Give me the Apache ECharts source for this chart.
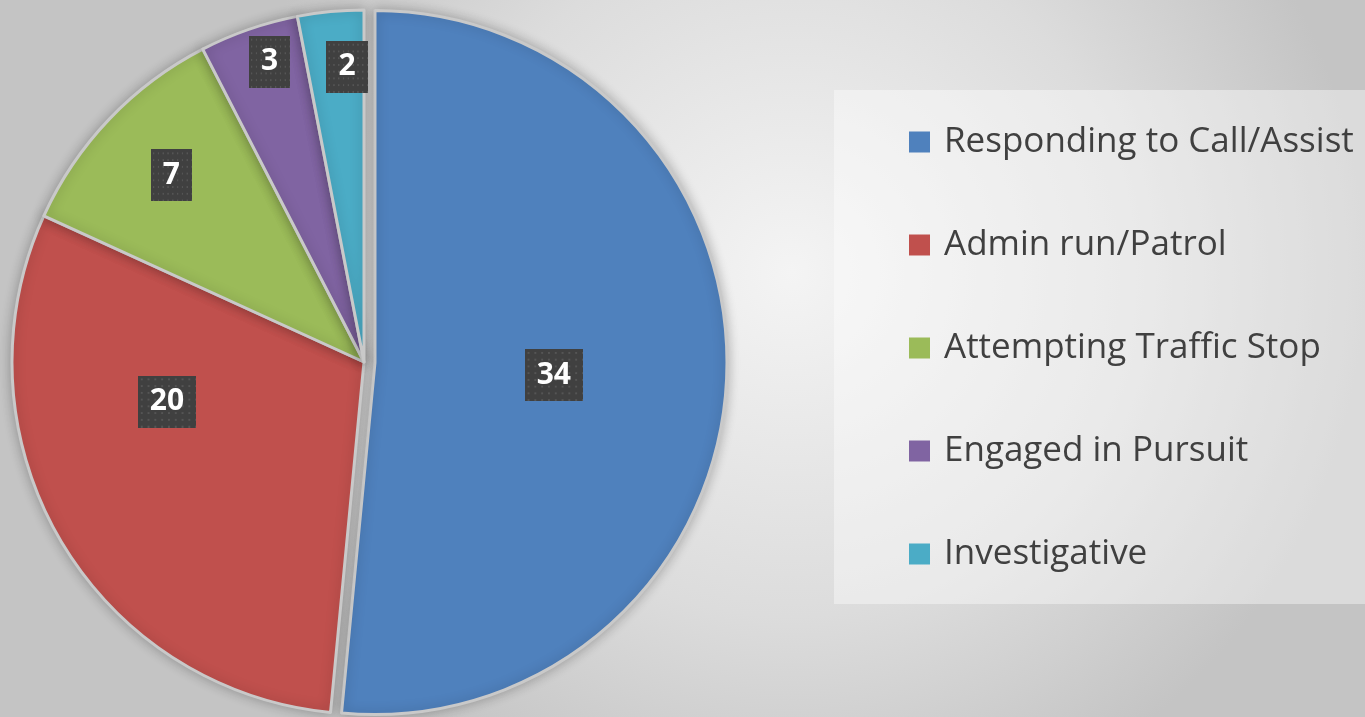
<!DOCTYPE html>
<html>
<head>
<meta charset="utf-8">
<script src="https://cdn.jsdelivr.net/npm/echarts@6/dist/echarts.min.js"></script>
<style>
    html, body { margin: 0; padding: 0; }
    #main { width: 1365px; height: 717px; }
</style>
</head>
<body>
<div id="main"></div>
<script>
// categories and counts
var categories = ['Responding to Call/Assist', 'Admin run/Patrol', 'Attempting Traffic Stop', 'Engaged in Pursuit', 'Investigative'];
var counts = [34, 20, 7, 3, 2];
var colors = ['#4f81bd', '#c0504d', '#9bbb59', '#8064a2', '#4bacc6'];

// nudge of each value label away from the default 'inside' spot
var labelShift = [[0, 4], [-42, -50], [-63, -63], [-36, -131], [0, -117]];

// dotted dark texture for the label boxes
function dotPattern(w, h) {
    var c = document.createElement('canvas');
    c.width = w; c.height = h;
    var ctx = c.getContext('2d');
    ctx.fillStyle = '#404040';
    ctx.fillRect(0, 0, w, h);
    ctx.fillStyle = '#555555';
    for (var y = 3; y < h; y += 7) {
        for (var x = 3; x < w; x += 7) {
            ctx.fillRect(x, y, 2, 2);
        }
    }
    return c;
}

var myChart = echarts.init(document.getElementById('main'));

var option = {
    animation: false,
    backgroundColor: {
        type: 'radial', x: 0.58, y: 0.38, r: 0.8,
        colorStops: [
            {offset: 0, color: '#f4f4f4'},
            {offset: 0.6, color: '#dcdcdc'},
            {offset: 1, color: '#c4c4c4'}
        ]
    },
    color: colors,
    legend: {
        orient: 'vertical',
        left: 834,
        top: 90,
        padding: [32, 60, 30, 75],
        backgroundColor: 'rgba(255,255,255,0.4)',
        icon: 'rect',
        itemWidth: 21,
        itemHeight: 21,
        itemGap: 63,
        itemTextGap: 12,
        itemStyle: { borderWidth: 0 },
        textStyle: {
            color: '#404040',
            fontFamily: 'Open Sans',
            fontSize: 35,
            lineHeight: 40,
            padding: [0, 0, 0, 9]
        },
        data: categories
    },
    series: [{
        type: 'pie',
        center: [364, 362],
        radius: 352,
        startAngle: 90,
        clockwise: true,
        selectedMode: 'single',
        selectedOffset: 11,
        emphasis: { disabled: true },
        itemStyle: {
            borderColor: '#c9c9c9',
            borderWidth: 3,
            shadowBlur: 12,
            shadowColor: 'rgba(0,0,0,0.25)'
        },
        label: {
            show: true,
            position: 'inside',
            color: '#ffffff',
            fontFamily: 'Open Sans',
            fontWeight: 'bold',
            fontSize: 30,
            lineHeight: 32,
            padding: [10, 12],
            backgroundColor: { image: dotPattern(60, 54) },
            shadowColor: 'rgba(0,0,0,0.45)',
            shadowBlur: 6,
            shadowOffsetX: 4,
            shadowOffsetY: 4,
            formatter: '{c}'
        },
        labelLine: { show: false },
        labelLayout: function(params) {
            var s = labelShift[params.dataIndex];
            return { dx: s[0], dy: s[1] };
        },
        data: categories.map(function(name, i) {
            return { name: name, value: counts[i], selected: i === 0 };
        })
    }]
};

myChart.setOption(option);
window.addEventListener('resize', function() {
    myChart.resize();
});
</script>
</body>
</html>
